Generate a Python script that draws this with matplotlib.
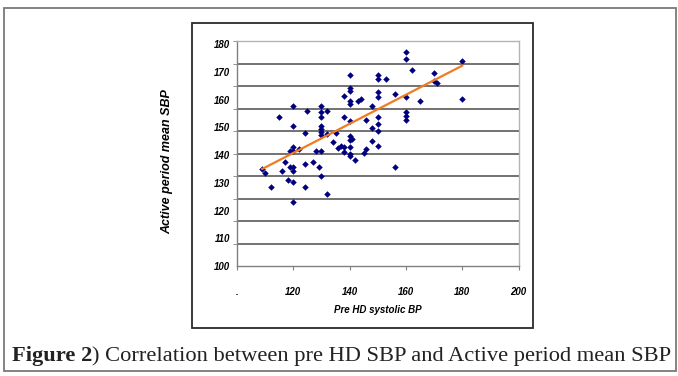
import matplotlib
matplotlib.use('Agg')
import matplotlib.pyplot as plt
from matplotlib.patches import Rectangle
import numpy as np

# Pre HD systolic BP (x) and active period mean SBP (y)
pre_hd_sbp = [109, 110, 112, 115, 116, 117, 118, 119, 119,
              120, 120, 120, 120, 120, 120, 120, 120,
              122, 124, 124, 124, 125, 127, 128, 129,
              130, 130, 130, 130, 130, 130, 130, 130, 130,
              132, 132, 132, 134, 135, 136, 137, 138, 138, 138, 138,
              140, 140, 140, 140, 140, 140, 140, 140, 140, 140, 140,
              141, 142, 143, 144, 145, 146, 146, 148, 148, 148,
              150, 150, 150, 150, 150, 150, 150, 150,
              153, 156, 156, 160, 160, 160, 160, 160, 160,
              162, 165, 170, 170, 171, 180, 180]
active_sbp = [135.0, 133.4, 128.5, 153.8, 134.2, 137.4, 131.0, 141.3, 135.8,
              157.8, 150.6, 143.0, 141.3, 135.8, 134.2, 130.2, 122.9,
              142.2, 147.8, 136.6, 128.6, 156.0, 137.4, 141.3, 135.8,
              157.8, 155.4, 153.8, 150.5, 149.4, 148.2, 147.2, 141.4, 132.5,
              156.0, 147.6, 126.1, 144.8, 147.8, 142.4, 143.1, 161.3, 153.6, 142.8, 141.2,
              168.8, 164.3, 163.1, 159.5, 158.4, 152.3, 146.8, 145.4, 143.0, 140.4, 139.5,
              145.7, 138.2, 159.5, 160.1, 140.6, 152.8, 142.2, 157.7, 149.6, 145.2,
              168.8, 167.4, 162.7, 160.9, 153.6, 151.2, 148.7, 143.1,
              167.4, 161.9, 135.8, 177.1, 174.6, 160.9, 155.6, 154.2, 152.6,
              170.5, 159.5, 169.7, 166.8, 165.8, 173.9, 160.1]

# trend line end points
trend_x = [109, 180]
trend_y = [135.0, 172.2]

x_ticks = [100, 120, 140, 160, 180, 200]
x_tick_labels = ['.', '120', '140', '160', '180', '200']
y_ticks = [100, 110, 120, 130, 140, 150, 160, 170, 180]

narrow = ['Liberation Sans Narrow', 'Liberation Sans', 'DejaVu Sans']

fig = plt.figure(figsize=(6.78, 3.76), dpi=100)

# outer frame and inner chart frame
fig.patches.append(Rectangle((4 / 678, 5 / 376), 672 / 678, 363 / 376,
                             transform=fig.transFigure, fill=False,
                             edgecolor='#7a7a7a', linewidth=1.3))
fig.patches.append(Rectangle((192 / 678, 48 / 376), 341 / 678, 305 / 376,
                             transform=fig.transFigure, fill=False,
                             edgecolor='#2a2a2a', linewidth=1.3))

ax = fig.add_axes([237 / 678, 110 / 376, 281.5 / 678, 225 / 376])
ax.set_xlim(100, 200)
ax.set_ylim(100, 181.1)

# horizontal grid lines (the chart has 10 bands)
grid_pos = np.linspace(100, 181.1, 11)
ax.set_yticks(grid_pos, minor=True)
ax.grid(True, which='minor', axis='y', color='#5a5a5a', linewidth=1.2)
ax.tick_params(axis='y', which='minor', length=3, color='#808080')

ax.set_yticks(y_ticks)
ax.set_yticklabels([str(v) for v in y_ticks], fontsize=7, fontweight='bold',
                   fontstyle='italic', family=narrow)
ax.tick_params(axis='y', which='major', length=0, pad=5)

ax.set_xticks(x_ticks)
ax.set_xticklabels(x_tick_labels, fontsize=7, fontweight='bold',
                   fontstyle='italic', family=narrow)
ax.tick_params(axis='x', length=3, color='#808080', pad=12)

for side in ['left', 'bottom']:
    ax.spines[side].set_color('#808080')
for side in ['top', 'right']:
    ax.spines[side].set_color('#b4b4b4')
for s in ax.spines.values():
    s.set_linewidth(1.0)

ax.scatter(pre_hd_sbp, active_sbp, marker='D', s=11, color='#00007f', zorder=3,
           linewidths=0)
ax.plot(trend_x, trend_y, color='#f07c22', linewidth=1.6, zorder=4)

ax.set_xlabel('Pre HD systolic BP', fontsize=7, fontweight='bold',
              fontstyle='italic', family=narrow, labelpad=6)
fig.text(167 / 678, 1 - 162 / 376, 'Active period mean SBP', rotation=90,
         ha='center', va='center', fontsize=9, fontweight='bold',
         fontstyle='italic', family=narrow)

# caption: bold "Figure 2" followed by regular text
renderer = fig.canvas.get_renderer()
cap_y = 1 - 356 / 376
t1 = fig.text(12 / 678, cap_y, 'Figure 2', fontsize=16.2, fontweight='bold',
              family='Liberation Serif', va='center', color='#222222')
bb = t1.get_window_extent(renderer=renderer)
fig.text(bb.x1 / 678, cap_y, ') Correlation between pre HD SBP and Active period mean SBP',
         fontsize=16.2, family='Liberation Serif', va='center', color='#222222')

fig.savefig('out.png', dpi=100)
